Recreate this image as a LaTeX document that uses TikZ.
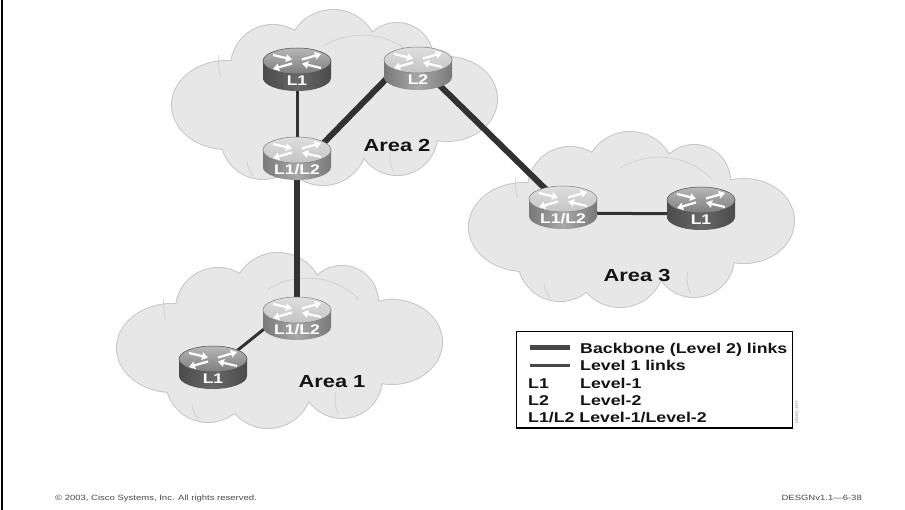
\documentclass[tikz,border=0pt]{standalone}
\usepackage{fontspec}
\setmainfont{Liberation Sans}[FakeStretch=1.25]
\usetikzlibrary{arrows.meta,calc}

\pgfdeclarelayer{clouds}
\pgfdeclarelayer{links}
\pgfsetlayers{clouds,links,main}

\definecolor{cloudfill}{RGB}{231,231,231}
\definecolor{cloudedge}{RGB}{198,198,198}
\definecolor{cloudinner}{RGB}{210,210,210}
\definecolor{linkcol}{RGB}{50,50,50}
\definecolor{darktop}{RGB}{125,125,125}
\definecolor{darkside}{RGB}{104,104,104}
\definecolor{lighttop}{RGB}{196,196,196}
\definecolor{lightside}{RGB}{168,168,168}
\definecolor{textcol}{RGB}{20,20,20}
\definecolor{footcol}{RGB}{70,70,70}

% lobes of one cloud, relative to its centre (1 unit = 1pt, y downwards)
\def\cloudlobes{(-108,8) ellipse [x radius=55, y radius=44]
  (-62,-30) circle [radius=42]
  (-2,-42) circle [radius=45]
  (62,-38) circle [radius=36]
  (112,2) ellipse [x radius=50, y radius=42]
  (62,38) circle [radius=40]
  (-12,44) circle [radius=44]
  (-72,40) circle [radius=42]
  (0,0) ellipse [x radius=110, y radius=55]}

\tikzset{
  pics/cloud/.style={code={
    \draw[cloudedge, line width=2pt] \cloudlobes;
    \fill[cloudfill] \cloudlobes;
    % faint edges of the overlapping puffs
    \draw[cloudinner, line width=0.8pt]
      (-116,-42) arc [start angle=190, end angle=160, radius=42];
    \draw[cloudinner, line width=0.8pt]
      (-12,-51) arc [start angle=235, end angle=320, x radius=68, y radius=60];
    \draw[cloudinner, line width=0.8pt]
      (-88,64) arc [start angle=175, end angle=140, radius=28];
    \draw[cloudinner, line width=0.8pt]
      (56,52) arc [start angle=195, end angle=150, radius=30];
  }},
  pics/router/.style 2 args={code={
    % #1 top colour, #2 side colour
    \shade[left color=#2!72!black, right color=#2!72!black, middle color=#2]
      (-34,-20) rectangle (34,-3);
    \shade[left color=#2!72!black, right color=#2!72!black, middle color=#2]
      (0,-3) ellipse [x radius=34, y radius=13];
    \shade[top color=#1!55!white, bottom color=#1]
      (0,-20) ellipse [x radius=34, y radius=13];
    \draw[#2!75!black, line width=0.5pt] (0,-20) ellipse [x radius=34, y radius=13];
    \draw[rarrow] (-24,-26) -- (-5,-21.5);
    \draw[rarrow] (5,-21.5) -- (24,-27);
    \draw[rarrow] (-5,-17.5) -- (-24,-12);
    \draw[rarrow] (24,-13) -- (5,-17.5);
  }},
  rarrow/.style={white, line width=2.2pt, -{Triangle[length=6pt, width=7.5pt]}},
  rlabel/.style={text=white, font=\bfseries\fontsize{14}{14}\selectfont,
    inner sep=0pt, text height=10pt, text depth=0pt},
  arealabel/.style={text=textcol, font=\bfseries\fontsize{17.5}{18}\selectfont,
    inner sep=0pt, anchor=base},
  legendtext/.style={text=textcol, font=\bfseries\fontsize{14.2}{15}\selectfont,
    inner sep=0pt, anchor=base west},
  footer/.style={text=footcol, font=\fontsize{7.6}{8}\selectfont, inner sep=0pt},
  backbone/.style={linkcol, line width=6pt},
  level1/.style={linkcol, line width=3pt},
}

\newcommand\drawrouter[6]{% name, x, y, top colour, side colour, label
  \pic at (#2,#3) {router={#4}{#5}};
  \node[rlabel] (#1) at (#2,#3) {#6};
}

\begin{document}
\begin{tikzpicture}[x=1pt, y=-1pt]
  \useasboundingbox (0,0) rectangle (905,510);

  % page edge on the left
  \coordinate (edgetop) at (2,0);
  \coordinate (edgebottom) at (2,510);
  \draw[line width=2pt] (edgetop) -- (edgebottom);

  % the three areas
  \begin{pgfonlayer}{clouds}
    \pic at (335,97) {cloud};
    \pic at (632,219) {cloud};
    \pic at (280,340) {cloud};
  \end{pgfonlayer}

  % routers
  \drawrouter{a2r1}{297}{81}{darktop}{darkside}{L1}
  \drawrouter{a2r2}{418}{80}{lighttop}{lightside}{L2}
  \drawrouter{a2b}{297}{170}{lighttop}{lightside}{L1/L2}
  \drawrouter{a3b}{563}{219}{lighttop}{lightside}{L1/L2}
  \drawrouter{a3r1}{701}{220}{darktop}{darkside}{L1}
  \drawrouter{a1b}{297}{330}{lighttop}{lightside}{L1/L2}
  \drawrouter{a1r1}{213}{379}{darktop}{darkside}{L1}

  % area names
  \node[arealabel] (area2) at (397,152) {Area 2};
  \node[arealabel] (area3) at (637,282) {Area 3};
  \node[arealabel] (area1) at (332,388) {Area 1};

  % links
  \begin{pgfonlayer}{links}
    \draw[level1] (a2r1.center) -- (a2b.center);
    \draw[backbone] ($(a2b.center)+(9,-9)$) -- ($(a2r2.center)+(-24,-9)$);
    \draw[backbone] ($(a2r2.center)+(7,-9)$) -- ($(a3b.center)+(4,-9)$);
    \draw[backbone] (a2b.center) -- (a1b.center);
    \draw[level1] ($(a3b.center)+(0,-6)$) -- ($(a3r1.center)+(0,-6)$);
    \draw[level1] ($(a1b.center)+(-23,-9)$) -- ($(a1r1.center)+(0,-9)$);
  \end{pgfonlayer}

  % legend
  \node[draw=black, line width=1pt, fill=white, minimum width=276pt,
        minimum height=96pt, inner sep=0pt] (legend) at (654,380) {};
  \draw[line width=1.6pt] (legend.north east) -- (legend.south east) -- (legend.south west);
  \coordinate (bbA) at (530,348);
  \coordinate (bbB) at (570,348);
  \coordinate (lvA) at (530,366);
  \coordinate (lvB) at (570,366);
  \draw[backbone, line width=5pt, color=linkcol!90!white] (bbA) -- (bbB);
  \draw[level1, color=linkcol!90!white] (lvA) -- (lvB);
  \node[legendtext] (k1) at (580,354) {Backbone (Level 2) links};
  \node[legendtext] (k2) at (580,371) {Level 1 links};
  \node[legendtext] (k3a) at (528,389) {L1};
  \node[legendtext] (k3b) at (580,389) {Level-1};
  \node[legendtext] (k4a) at (528,406) {L2};
  \node[legendtext] (k4b) at (580,406) {Level-2};
  \node[legendtext] (k5) at (528,423) {L1/L2 Level-1/Level-2};

  \node[rotate=90, text=gray, font=\fontsize{4}{4}\selectfont, inner sep=0pt]
    (figcode) at (797,412) {0040\_407};

  % footer
  \node[footer, anchor=base west] (copyright) at (55,500)
    {© 2003, Cisco Systems, Inc. All rights reserved.};
  \node[footer, anchor=base east] (pagecode) at (862,500) {DESGNv1.1—6-38};
\end{tikzpicture}
\end{document}
